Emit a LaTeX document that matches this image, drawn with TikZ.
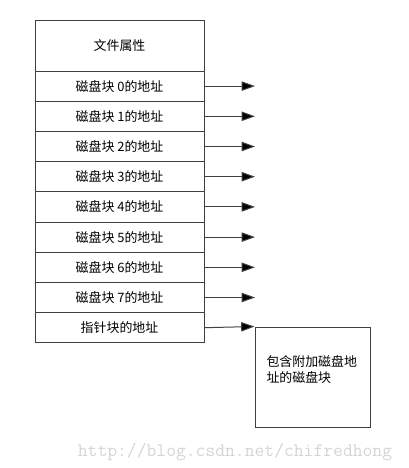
\documentclass[tikz,border=0pt]{standalone}
\usepackage{fontspec}
\newfontfamily\cjk{Noto Sans CJK SC}
\usetikzlibrary{arrows.meta}

\definecolor{edgegray}{RGB}{64,64,64}
\definecolor{markgray}{RGB}{212,212,212}

\tikzset{
  cell/.style={draw=edgegray,line width=0.75pt,fill=white,inner sep=0pt,
    minimum width=126.75pt,minimum height=22.65pt,font=\cjk\fontsize{9.7pt}{12pt}\selectfont},
  ptr/.style={draw=edgegray,line width=0.75pt,-{Triangle[length=10pt,width=7pt,fill=black]}}
}

\begin{document}
\begin{tikzpicture}[x=0.75pt,y=0.75pt,yscale=-1,xscale=1]
\path (0,0) rectangle (408,468); %page of 408 x 468

%Shape: Rectangle [header]
\node [cell,minimum height=38.25pt] (attr) at (119.5,45.5) {文件属性};
%Shape: Rectangle [rows]
\node [cell] (blk0) at (119.5,86.1) {磁盘块 0的地址};
\node [cell] (blk1) at (119.5,116.3) {磁盘块 1的地址};
\node [cell] (blk2) at (119.5,146.5) {磁盘块 2的地址};
\node [cell] (blk3) at (119.5,176.7) {磁盘块 3的地址};
\node [cell] (blk4) at (119.5,206.9) {磁盘块 4的地址};
\node [cell] (blk5) at (119.5,237.1) {磁盘块 5的地址};
\node [cell] (blk6) at (119.5,267.3) {磁盘块 6的地址};
\node [cell] (blk7) at (119.5,297.5) {磁盘块 7的地址};
\node [cell] (ptrblk) at (119.5,327.7) {指针块的地址};

%Shape: Rectangle [extra block]
\node [cell,minimum width=86.25pt,minimum height=75pt] (extra) at (312.5,377) {};
% Text Node
\node [font=\cjk\fontsize{9.7pt}{12pt}\selectfont,align=left,text width=69pt,inner sep=0pt] (extratxt) at (312.5,370) {包含附加磁盘地\\址的磁盘块};

%Arrows [free ends]
\coordinate (end0) at (255,86.1);
\coordinate (end1) at (255,116.3);
\coordinate (end2) at (255,146.5);
\coordinate (end3) at (255,176.7);
\coordinate (end4) at (255,206.9);
\coordinate (end5) at (255,237.1);
\coordinate (end6) at (255,267.3);
\coordinate (end7) at (255,297.5);
\draw [ptr] (blk0.east) -- (end0);
\draw [ptr] (blk1.east) -- (end1);
\draw [ptr] (blk2.east) -- (end2);
\draw [ptr] (blk3.east) -- (end3);
\draw [ptr] (blk4.east) -- (end4);
\draw [ptr] (blk5.east) -- (end5);
\draw [ptr] (blk6.east) -- (end6);
\draw [ptr] (blk7.east) -- (end7);
\draw [ptr] (ptrblk.east) -- (extra.north west);

% Text Node [watermark]
\node [font=\ttfamily\fontsize{14.3pt}{16pt}\selectfont,text=markgray,anchor=base,inner sep=0pt] (mark) at (235,456) {http://blog.csdn.net/chifredhong};

\end{tikzpicture}
\end{document}
